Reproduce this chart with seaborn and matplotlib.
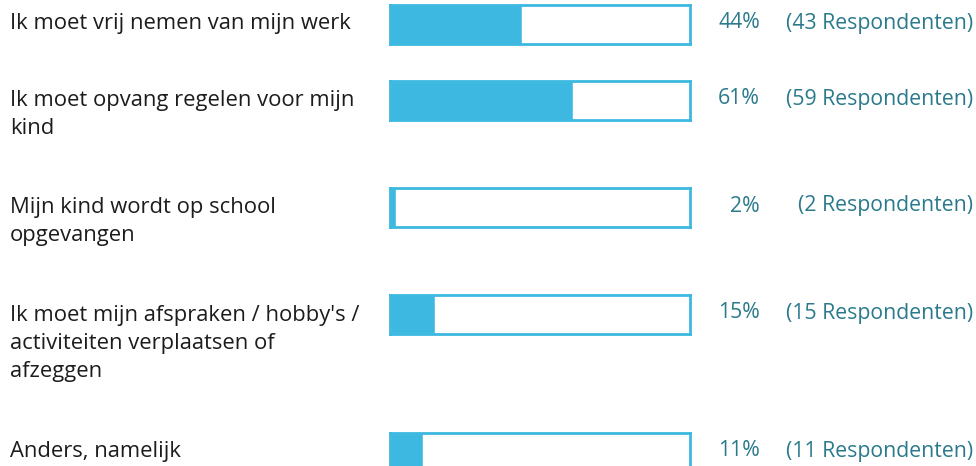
import matplotlib
matplotlib.use("Agg")
import matplotlib.pyplot as plt
import seaborn as sns

# survey answers
labels = [
    "Ik moet vrij nemen van mijn werk",
    "Ik moet opvang regelen voor mijn\nkind",
    "Mijn kind wordt op school\nopgevangen",
    "Ik moet mijn afspraken / hobby's /\nactiviteiten verplaatsen of\nafzeggen",
    "Anders, namelijk",
]
percents = [44, 61, 2, 15, 11]
respondents = [43, 59, 2, 15, 11]

sns.set_theme(style="white")
plt.rcParams["font.family"] = ["Open Sans", "DejaVu Sans"]

W, H = 976, 466
fig = plt.figure(figsize=(W / 100, H / 100), dpi=100)
fig.patch.set_facecolor("white")

blue = "#3db9e1"
teal = "#2a7a8c"
box_left, box_w, box_h = 390, 300, 39
line_h = 29.5

# row tops follow the number of lines in each label
tops = [5]
for lab in labels[:-1]:
    n = lab.count("\n") + 1
    tops.append(tops[-1] + 76 + 31 * (n - 1))

for lab, pct, n_resp, top in zip(labels, percents, respondents, tops):
    ax = fig.add_axes([box_left / W, 1 - (top + box_h) / H, box_w / W, box_h / H])
    sns.barplot(x=[pct], y=[""], orient="h", color=blue, width=1,
                saturation=1, ax=ax)
    ax.set_xlim(0, 100)
    ax.set_ylim(0.5, -0.5)
    ax.set_xticks([])
    ax.set_yticks([])
    ax.set_xlabel("")
    ax.set_ylabel("")
    for sp in ax.spines.values():
        sp.set_visible(True)
        sp.set_color(blue)
        sp.set_linewidth(2)

    n = lab.count("\n")
    yb = 1 - (top + 23.5) / H
    # baseline alignment of multi-line text uses the last line
    fig.text(10 / W, 1 - (top + 23.5 + line_h * n) / H, lab, ha="left", va="baseline",
             fontsize=15.8, color="#1c1c1c", linespacing=1.45)
    fig.text(760 / W, yb, f"{pct}%", ha="right", va="baseline", fontsize=15.3, color=teal)
    fig.text(973 / W, yb, f"({n_resp} Respondenten)", ha="right", va="baseline",
             fontsize=15.3, color=teal)

fig.savefig("out.png", dpi=100)
